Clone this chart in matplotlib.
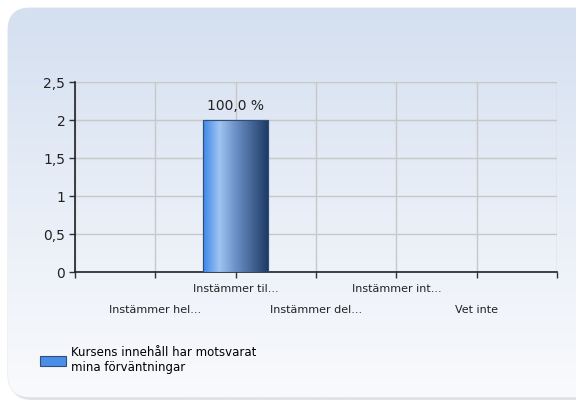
import numpy as np
import matplotlib
matplotlib.use("Agg")
import matplotlib.pyplot as plt
from matplotlib.patches import FancyBboxPatch
from matplotlib.colors import LinearSegmentedColormap

categories = ["Instämmer hel...", "Instämmer til...", "Instämmer del...", "Instämmer int...", "Vet inte"]
values = [0, 2, 0, 0, 0]
percent_labels = ["", "100,0 %", "", "", ""]
series_name = "Kursens innehåll har motsvarat\nmina förväntningar"
yticks = [0, 0.5, 1, 1.5, 2, 2.5]
ytick_labels = ["0", "0,5", "1", "1,5", "2", "2,5"]

W, H = 576, 401
fig = plt.figure(figsize=(W / 100, H / 100), dpi=100)
fig.patch.set_facecolor("white")

# background panel with gradient and rounded corners
bg = fig.add_axes([0, 0, 1, 1], zorder=0)
bg.set_xlim(0, W)
bg.set_ylim(H, 0)
bg.axis("off")
shadow = FancyBboxPatch((10, 10), W + 20, 390, boxstyle="round,pad=0,rounding_size=22",
                        facecolor="#d0d0d0", edgecolor="none", alpha=0.6)
bg.add_patch(shadow)
panel = FancyBboxPatch((8, 8), W + 20, 389, boxstyle="round,pad=0,rounding_size=22",
                       facecolor="none", edgecolor="#e4e8ee", linewidth=0.8)
bg.add_patch(panel)
grad = np.linspace(0, 1, 256).reshape(-1, 1)
cmap_bg = LinearSegmentedColormap.from_list("bg", ["#d4dff0", "#e8eef7", "#f9fafd"])
im = bg.imshow(grad, aspect="auto", cmap=cmap_bg, extent=(8, W + 28, 397, 8), zorder=1)
im.set_clip_path(panel)

ax = fig.add_axes([75 / W, 1 - 272 / H, (557 - 75) / W, (272 - 82) / H], zorder=2)
ax.patch.set_alpha(0)
x = np.arange(1, len(categories) + 1)
bars = ax.bar(x, values, width=0.81, color="#4a8ee8", edgecolor="#2e4f7c",
              linewidth=0.8, zorder=3, label=series_name)

cmap_bar = LinearSegmentedColormap.from_list(
    "bar", [(0, "#3f87e8"), (0.25, "#9fc3f2"), (0.5, "#6b90c6"), (1, "#1c3862")])
hgrad = np.linspace(0, 1, 256).reshape(1, -1)
for b in bars:
    if b.get_height() <= 0:
        continue
    bx, by = b.get_x(), b.get_y()
    bw, bh = b.get_width(), b.get_height()
    gi = ax.imshow(hgrad, aspect="auto", cmap=cmap_bar,
                   extent=(bx, bx + bw, by, by + bh), zorder=3.5)
    gi.set_clip_path(b)
    ax.bar(b.get_x() + bw / 2, bh, width=bw, facecolor="none",
           edgecolor="#2e4f7c", linewidth=0.8, zorder=4)

for xi, v, lab in zip(x, values, percent_labels):
    if lab:
        ax.text(xi, v + 0.09, lab, ha="center", va="bottom", fontsize=10,
                color="#222222", family="DejaVu Sans")

ax.set_xlim(0, len(categories) + 1)
ax.set_ylim(0, 2.5)
ax.set_yticks(yticks)
ax.set_yticklabels(ytick_labels, fontsize=10, color="#222222")
ax.set_xticks(np.arange(0, len(categories) + 2))
ax.set_xticklabels([])
ax.tick_params(axis="both", direction="out", length=4, color="#333333", width=1)
ax.tick_params(axis="y", pad=3)
ax.grid(True, color="#c8c8c8", linewidth=1, zorder=1)
ax.set_axisbelow(True)
for s in ["top", "right"]:
    ax.spines[s].set_visible(False)
for s in ["left", "bottom"]:
    ax.spines[s].set_color("#222222")
    ax.spines[s].set_linewidth(1.2)

for i, (xi, cat) in enumerate(zip(x, categories)):
    yoff = -0.09 if i % 2 == 1 else -0.2
    ax.text(xi, yoff, cat, transform=ax.get_xaxis_transform(), ha="center", va="center",
            fontsize=8, color="#222222")

ax.legend(loc="upper left", bbox_to_anchor=(40 / W, 1 - 346 / H), bbox_transform=fig.transFigure,
          frameon=False, fontsize=8.5, handlelength=2.2, handleheight=0.9, handletextpad=0.4,
          borderpad=0, borderaxespad=0, labelspacing=0)

fig.savefig("out.png", dpi=100)
